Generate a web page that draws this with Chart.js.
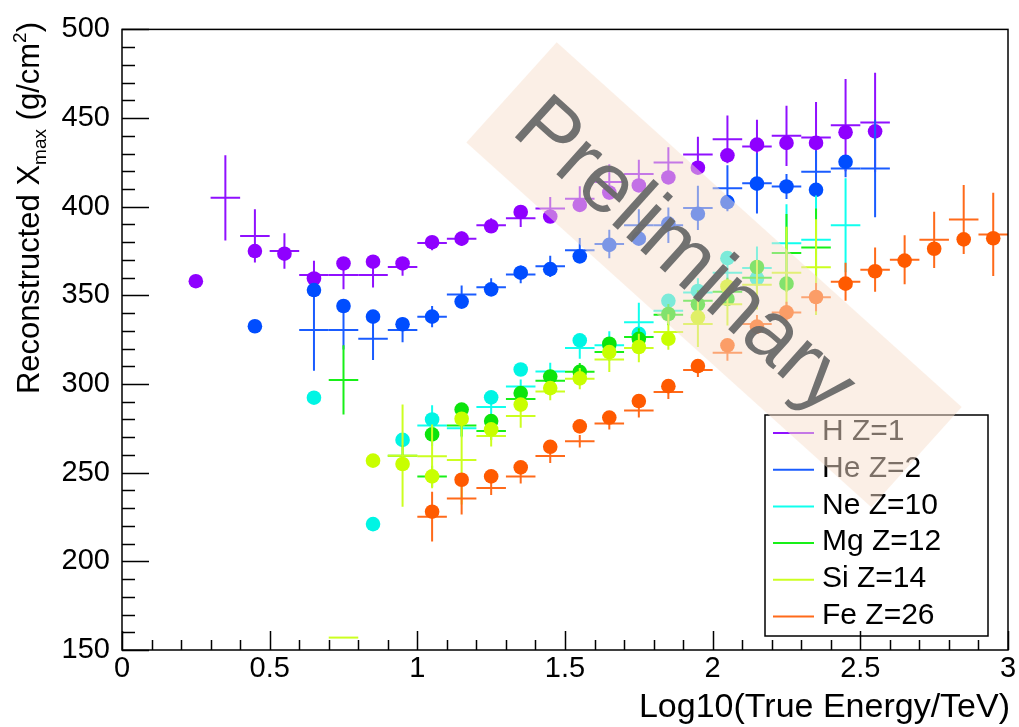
<!DOCTYPE html>
<html><head><meta charset="utf-8">
<script src="https://cdn.jsdelivr.net/npm/chart.js@4.4.1/dist/chart.umd.min.js"></script>
<style>html,body{margin:0;padding:0;background:#fff;overflow:hidden;}</style>
</head><body>
<canvas id="c" width="1019" height="727"></canvas>
<script>
// ---------------- DATA ----------------
const xTickLabels = ['0','0.5','1','1.5','2','2.5','3'];
const yTickLabels = ['150','200','250','300','350','400','450','500'];
const binHalfWidth = 0.05;

// H Z=1
const hCircX = [0.25,0.45,0.55,0.65,0.75,0.85,0.95,1.05,1.15,1.25,1.35,1.45,1.55,1.65,1.75,1.85,1.95,2.05,2.15,2.25,2.35,2.45,2.55];
const hCircY = [358,375,373.5,359.5,368,369,368,380,382,389,397,394.5,401,408,412,416.5,422,429,435,436,436,442,442.5];
const hCrossX = [0.35,0.45,0.55,0.65,0.75,0.85,0.95,1.05,1.15,1.25,1.35,1.45,1.55,1.65,1.75,1.85,1.95,2.05,2.15,2.25,2.35,2.45,2.55];
const hCrossY = [405,383.5,375,361.5,361.5,361.5,366,379.5,382,389.5,393.5,399,404.5,414,418.5,425,429.5,438,434,440,439,446,447.5];
const hCrossErr = [24,15,10,8,8,7,5,4,4,4,5,6.5,7,10,8,8.5,10,13.5,15,17,20,26,28];

// He Z=2
const heCircX = [0.45,0.65,0.75,0.85,0.95,1.05,1.15,1.25,1.35,1.45,1.55,1.65,1.75,1.85,1.95,2.05,2.15,2.25,2.35,2.45];
const heCircY = [332.6,353,344,338,333.7,338,346.5,353.4,362.8,364.8,372,378.5,382,390.5,396,402.6,413,411.4,409.5,425.3];
const heCrossX = [0.65,0.75,0.85,0.95,1.05,1.15,1.25,1.35,1.45,1.55,1.65,1.75,1.85,1.95,2.05,2.15,2.25,2.35,2.45,2.55];
const heCrossY = [330.5,330.5,325.5,330.5,338,350.5,354.6,361.8,366.4,375.4,379,389.6,389.6,399.3,410.4,413.2,411.4,419.7,421.6,421.6];
const heCrossErr = [23,11,12,7,6,5,5,5,6,7,8,9,10,12.5,13,17,7,12,5,27.5];

// Ne Z=10
const neCircX = [0.65,0.85,0.95,1.05,1.25,1.35,1.55,1.65,1.75,1.85,1.95,2.05,2.15];
const neCircY = [292.3,221,268.5,280,292.5,308.2,324.6,322,328.3,346.9,352.5,371,359.5];
const neCrossX = [1.05,1.15,1.25,1.35,1.45,1.55,1.65,1.75,1.85,1.95,2.05,2.15,2.25,2.35,2.45];
const neCrossY = [276.6,275,287.1,298.6,307,320.3,321.8,334.8,341.3,351.6,362.7,365.5,379.4,381.3,389.6];
const neCrossErr = [11.5,5,4,4,5,6,8,11,8,8,10,12,22,25,26.5];

// Mg Z=12
const mgCircX = [1.05,1.15,1.25,1.35,1.45,1.55,1.65,1.75,1.85,1.95,2.05,2.15,2.25];
const mgCircY = [271.6,285.6,279.1,294.9,304.2,306.9,322.7,325.5,339.5,345,348,366,356.6];
const mgCrossX = [0.75,0.95,1.05,1.15,1.25,1.35,1.45,1.55,1.65,1.75,1.85,1.95,2.05,2.15,2.25,2.35];
const mgCrossY = [302.3,259.6,247.9,276.6,273.5,291.5,301.8,306.9,318.1,326.5,339.1,346.9,352,360,373.9,377];
const mgCrossErr = [19.5,6,6,6,5,5,5,5,5,5,6,6,8,9,22,22];

// Si Z=14
const siCircX = [0.85,0.95,1.05,1.15,1.25,1.35,1.45,1.55,1.65,1.75,1.85,1.95,2.05];
const siCircY = [256.8,254.9,247.9,280.4,274.4,288.4,297.7,303.2,318,320.9,325.5,337.6,355];
const siCrossX = [0.75,0.95,1.05,1.15,1.25,1.35,1.45,1.55,1.65,1.75,1.85,1.95,2.05,2.15,2.25,2.35];
const siCrossY = [157,259.6,259.2,257.1,270.7,281.9,295.8,303,313.8,320.3,329.3,333.9,345,356,362.7,365.9];
const siCrossErr = [0,28.8,18,25,6,6.5,5,6,7,8,10,13,12,14,26,27];

// Fe Z=26
const feCircX = [1.05,1.15,1.25,1.35,1.45,1.55,1.65,1.75,1.85,1.95,2.05,2.15,2.25,2.35,2.45,2.55,2.65,2.75,2.85,2.95];
const feCircY = [228,246,247.9,253,264.6,276.1,281.1,290.4,298.8,310.1,321.8,332.4,340.4,349.1,356.6,363.6,369.6,376.3,381.6,382.2];
const feCrossX = [1.05,1.15,1.25,1.35,1.45,1.55,1.65,1.75,1.85,1.95,2.05,2.15,2.25,2.35,2.45,2.55,2.65,2.75,2.85,2.95];
const feCrossY = [225.2,235.4,241.4,247.9,259.4,267.7,277.8,285.1,295.5,307.9,317.6,333.9,340.4,349,357.7,364.5,370.1,381.3,392.8,384.4];
const feCrossErr = [14,9,4,4,4,3.5,3.5,4,4,4,4.5,5,6,8,10.7,12.5,13.8,15.8,19.5,23.5];

const seriesLabels = ['H Z=1','He Z=2','Ne Z=10','Mg Z=12','Si Z=14','Fe Z=26'];
const seriesColors = ['#8f00ff','#004dff','#00f5e4','#0ce40c','#c8ff00','#ff5a00'];
const crossColors  = ['#9010ff','#1a5cff','#10ffee','#18f018','#ccff20','#ff6a1a'];
// --------------------------------------

const FONT = "'Liberation Sans', Arial, Helvetica, sans-serif";
const pts = (xs, ys) => xs.map((x, i) => ({x: x, y: ys[i]}));

const table = [
  [hCircX, hCircY, hCrossX, hCrossY, hCrossErr],
  [heCircX, heCircY, heCrossX, heCrossY, heCrossErr],
  [neCircX, neCircY, neCrossX, neCrossY, neCrossErr],
  [mgCircX, mgCircY, mgCrossX, mgCrossY, mgCrossErr],
  [siCircX, siCircY, siCrossX, siCrossY, siCrossErr],
  [feCircX, feCircY, feCrossX, feCrossY, feCrossErr]
];

// later species drawn on top: Chart.js draws index 0 last
const datasets = [];
for (let s = table.length - 1; s >= 0; s--) {
  const [cx, cy, kx, ky, ke] = table[s];
  datasets.push({
    label: seriesLabels[s], data: pts(cx, cy),
    pointRadius: 7.3, pointHoverRadius: 7.3, pointStyle: 'circle',
    backgroundColor: seriesColors[s], borderColor: seriesColors[s], borderWidth: 0,
    showLine: false
  });
  datasets.push({
    label: seriesLabels[s] + ' err', data: pts(kx, ky),
    pointRadius: 0, pointHoverRadius: 0, showLine: false,
    yErr: ke, xHalf: binHalfWidth, errColor: crossColors[s]
  });
}

const bgPlugin = {
  id: 'bg',
  beforeDraw(chart) {
    const c = chart.ctx; c.save(); c.fillStyle = '#fff';
    c.fillRect(0, 0, chart.width, chart.height); c.restore();
  }
};

const errPlugin = {
  id: 'err',
  beforeDatasetDraw(chart, args) {
    const ds = chart.data.datasets[args.index];
    if (!ds.yErr) return;
    const c = chart.ctx, xs = chart.scales.x, ys = chart.scales.y;
    c.save();
    c.strokeStyle = ds.errColor; c.lineWidth = 2; c.lineCap = 'butt';
    ds.data.forEach((p, i) => {
      const px = xs.getPixelForValue(p.x), py = ys.getPixelForValue(p.y);
      const x0 = xs.getPixelForValue(p.x - ds.xHalf), x1 = xs.getPixelForValue(p.x + ds.xHalf);
      const y0 = ys.getPixelForValue(p.y - ds.yErr[i]), y1 = ys.getPixelForValue(p.y + ds.yErr[i]);
      c.beginPath();
      c.moveTo(x0, py); c.lineTo(x1, py);
      if (ds.yErr[i] > 0) { c.moveTo(px, y0); c.lineTo(px, y1); }
      c.stroke();
    });
    c.restore();
  }
};

const overlayPlugin = {
  id: 'overlay',
  afterDatasetsDraw(chart) {
    const c = chart.ctx;
    // legend
    c.save();
    const lx = 765, ly = 415, lw = 223, lh = 221;
    c.fillStyle = '#fff'; c.fillRect(lx, ly, lw, lh);
    c.strokeStyle = '#000'; c.lineWidth = 1.5; c.strokeRect(lx, ly, lw, lh);
    c.font = '30px ' + FONT; c.textBaseline = 'middle'; c.textAlign = 'left';
    seriesLabels.forEach((t, i) => {
      const y = 433 + i * 36.7;
      c.strokeStyle = crossColors[i]; c.lineWidth = 2;
      c.beginPath(); c.moveTo(773, y); c.lineTo(814, y); c.stroke();
      c.fillStyle = '#000'; c.fillText(t, 822, y - 1);
    });
    c.restore();
    // Preliminary band
    c.save();
    c.translate(714, 274); c.rotate(42 * Math.PI / 180);
    c.fillStyle = 'rgba(247,224,206,0.5)';
    c.fillRect(-272, -67, 545, 135);
    c.fillStyle = 'rgba(105,105,105,0.95)';
    c.font = '85px ' + FONT; c.textAlign = 'center'; c.textBaseline = 'middle';
    c.fillText('Preliminary', -34, 8);
    c.restore();
  },
  afterDraw(chart) {
    const c = chart.ctx, ca = chart.chartArea, xs = chart.scales.x, ys = chart.scales.y;
    c.save();
    c.strokeStyle = '#000'; c.lineWidth = 1.5;
    c.strokeRect(ca.left, ca.top, ca.right - ca.left, ca.bottom - ca.top);
    c.lineWidth = 1.5;
    c.beginPath();
    for (let v = 150; v <= 500; v += 10) {
      const len = (v % 50 === 0) ? 27 : 13;
      const py = Math.round(ys.getPixelForValue(v)) + 0.5;
      c.moveTo(ca.left, py); c.lineTo(ca.left + len, py);
    }
    for (let k = 0; k <= 30; k++) {
      const len = (k % 5 === 0) ? 19 : 10;
      const px = Math.round(xs.getPixelForValue(k / 10)) + 0.5;
      c.moveTo(px, ca.bottom); c.lineTo(px, ca.bottom - len);
    }
    c.stroke();
    // x title
    c.fillStyle = '#000';
    c.font = '34px ' + FONT; c.textAlign = 'right'; c.textBaseline = 'alphabetic';
    c.fillText('Log10(True Energy/TeV)', 1010, 717);
    // y title with sub/superscript
    const segs = [
      {t: 'Reconstructed X', s: 31, dy: 0},
      {t: 'max', s: 19, dy: 7},
      {t: ' (g/cm', s: 31, dy: 0},
      {t: '2', s: 19, dy: -13},
      {t: ')', s: 31, dy: 0}
    ];
    let W = 0;
    segs.forEach(sg => { c.font = sg.s + 'px ' + FONT; sg.w = c.measureText(sg.t).width; W += sg.w; });
    c.translate(39, 22); c.rotate(-Math.PI / 2);
    c.textAlign = 'left';
    let tx = -W;
    segs.forEach(sg => { c.font = sg.s + 'px ' + FONT; c.fillText(sg.t, tx, sg.dy); tx += sg.w; });
    c.restore();
  }
};

new Chart(document.getElementById('c'), {
  type: 'scatter',
  data: { datasets: datasets },
  options: {
    responsive: false, animation: false, devicePixelRatio: 1,
    layout: { padding: { top: 22, right: 11, left: 0, bottom: 0 } },
    plugins: { legend: { display: false }, tooltip: { enabled: false } },
    scales: {
      x: {
        type: 'linear', min: 0, max: 3,
        grid: { display: false, drawTicks: false }, border: { display: false },
        afterFit(s) { s.height = 77; },
        afterBuildTicks(s) { s.ticks = xTickLabels.map(t => ({value: parseFloat(t)})); },
        ticks: { font: { size: 29, family: FONT }, color: '#000', padding: 2,
                 maxRotation: 0, autoSkip: false,
                 callback: (v) => xTickLabels.find(t => parseFloat(t) === v) }
      },
      y: {
        type: 'linear', min: 150, max: 500,
        grid: { display: false, drawTicks: false }, border: { display: false },
        afterFit(s) { s.width = 122; },
        afterBuildTicks(s) { s.ticks = yTickLabels.map(t => ({value: parseFloat(t)})); },
        ticks: { font: { size: 29, family: FONT }, color: '#000', padding: 12, autoSkip: false,
                 callback: (v) => yTickLabels.find(t => parseFloat(t) === v) }
      }
    }
  },
  plugins: [bgPlugin, errPlugin, overlayPlugin]
});
</script>
</body></html>
